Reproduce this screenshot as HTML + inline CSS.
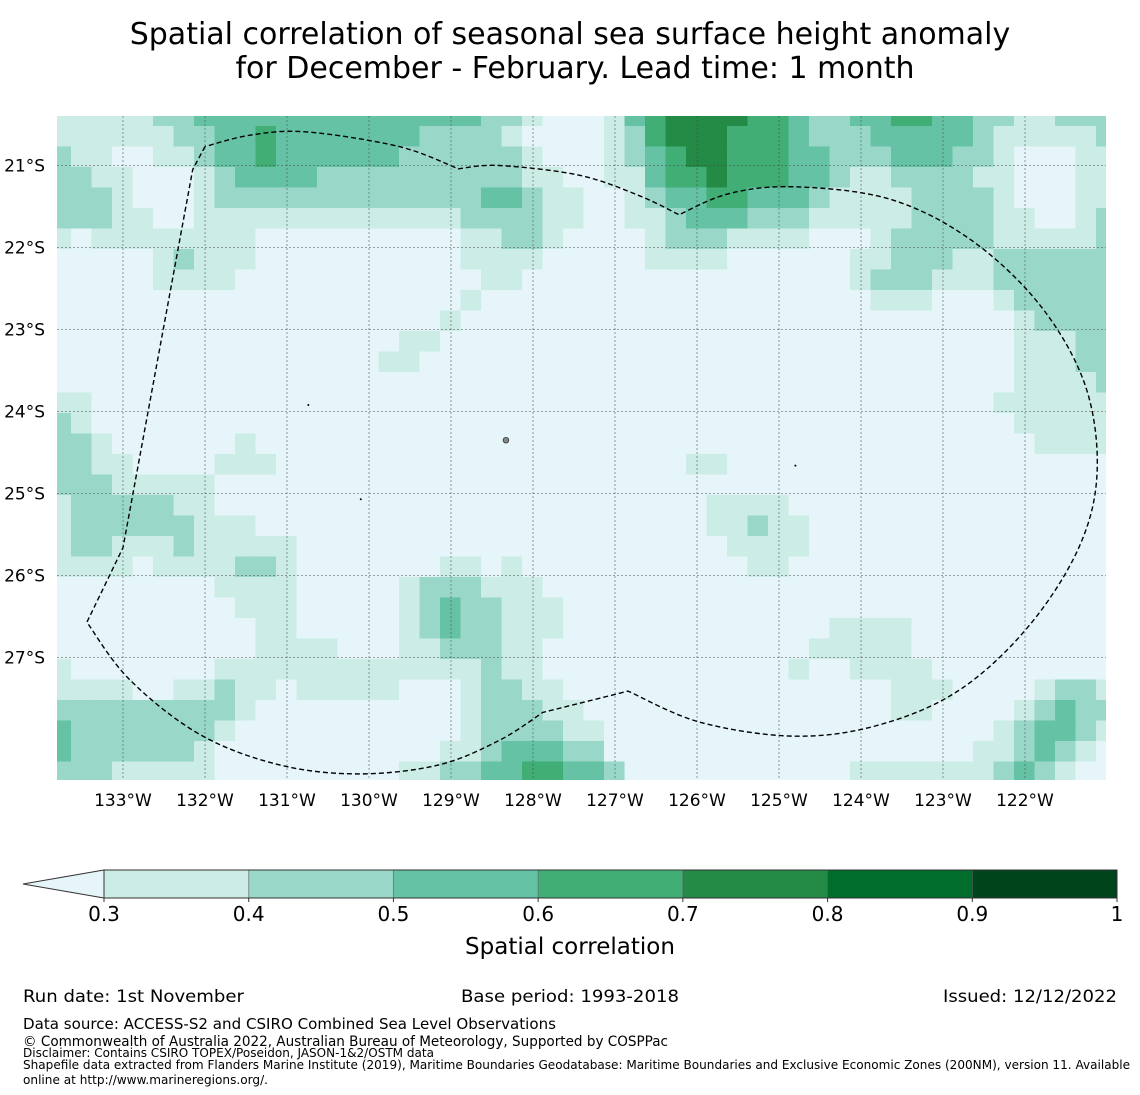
<!DOCTYPE html>
<html>
<head>
<meta charset="utf-8">
<style>
  html,body{margin:0;padding:0;background:#fff;}
  svg{display:block;font-family:"DejaVu Sans","Liberation Sans",sans-serif;}
</style>
</head>
<body>
<svg id="chart" width="1140" height="1095" viewBox="0 0 1140 1095" xmlns="http://www.w3.org/2000/svg">
  <rect x="0" y="0" width="1140" height="1095" fill="#ffffff"/>
  <text x="570" y="44" font-size="30" text-anchor="middle" fill="#000">Spatial correlation of seasonal sea surface height anomaly</text>
  <text x="575" y="78" font-size="30" text-anchor="middle" fill="#000">for December - February. Lead time: 1 month</text>
  <defs><clipPath id="mapclip"><rect x="57" y="116" width="1049" height="664"/></clipPath></defs>
  <g id="cells" clip-path="url(#mapclip)"></g>
  <g id="grid"></g>
  <g id="outline" clip-path="url(#mapclip)"></g>
  <g id="islands"></g>
  <g id="xlabels"></g>
  <g id="ylabels"></g>
  <g id="colorbar"></g>
  <text x="570" y="954" font-size="23" text-anchor="middle" fill="#000">Spatial correlation</text>
  <g fill="#000">
    <text x="23" y="1002" font-size="17" textLength="221" lengthAdjust="spacingAndGlyphs">Run date: 1st November</text>
    <text x="461" y="1002" font-size="17" textLength="218" lengthAdjust="spacingAndGlyphs">Base period: 1993-2018</text>
    <text x="943" y="1002" font-size="17" textLength="174" lengthAdjust="spacingAndGlyphs">Issued: 12/12/2022</text>
    <text x="23" y="1029" font-size="15" textLength="533" lengthAdjust="spacingAndGlyphs">Data source: ACCESS-S2 and CSIRO Combined Sea Level Observations</text>
    <text x="23" y="1046" font-size="14" textLength="645" lengthAdjust="spacingAndGlyphs">© Commonwealth of Australia 2022, Australian Bureau of Meteorology, Supported by COSPPac</text>
    <text x="23" y="1057" font-size="12" textLength="411" lengthAdjust="spacingAndGlyphs">Disclaimer: Contains CSIRO TOPEX/Poseidon, JASON-1&amp;2/OSTM data</text>
    <text x="23" y="1069" font-size="12" textLength="1107" lengthAdjust="spacingAndGlyphs">Shapefile data extracted from Flanders Marine Institute (2019), Maritime Boundaries Geodatabase: Maritime Boundaries and Exclusive Economic Zones (200NM), version 11. Available</text>
    <text x="23" y="1084" font-size="12" textLength="245" lengthAdjust="spacingAndGlyphs">online at http://www.marineregions.org/.</text>
  </g>
</svg>
<script>
// ---- data ----
// correlation class per cell (0: <0.3, 1: 0.3-0.4, ... 7: 0.9-1), run-length encoded rows (level*count), north to south
const rowsRLE = [
"1*5 2*2 3*14 2*2 1*1 0*3 1*1 3*1 4*1 5*4 4*2 3*1 2*2 3*2 4*2 3*2 2*2 1*2 2*3",
"1*6 2*2 3*2 4*1 3*7 2*4 1*1 0*4 1*1 2*1 4*1 5*3 4*3 3*1 2*3 3*5 2*1 1*5 2*1",
"2*1 1*2 0*2 1*2 2*1 3*2 4*1 3*6 2*6 1*1 0*3 1*1 2*1 3*1 4*1 5*2 4*3 3*2 2*3 3*3 2*2 1*1 0*3 1*2",
"2*2 1*2 0*3 1*1 2*1 3*4 2*10 1*2 0*2 1*2 3*1 4*2 5*1 4*3 3*2 2*1 1*2 2*4 1*2 0*3 1*2",
"2*3 1*1 0*3 1*1 2*13 3*2 2*1 1*2 0*2 1*1 2*1 3*2 4*2 3*3 2*1 1*4 2*4 1*1 0*3 1*2",
"2*3 1*2 0*2 1*13 2*4 1*2 0*2 1*2 2*1 3*3 2*3 1*5 2*4 1*2 0*2 1*1 2*1",
"1*1 0*1 1*8 0*10 1*2 2*2 1*1 0*4 1*1 2*3 1*4 0*3 1*1 2*5 1*5 2*1",
"0*5 1*1 2*1 1*3 0*10 1*4 0*5 1*4 0*6 1*2 2*3 1*2 2*6",
"0*5 1*4 0*12 1*2 0*16 1*1 2*3 1*3 2*6",
"0*20 1*1 0*19 1*3 0*3 1*1 2*5",
"0*19 1*1 0*27 1*1 2*4",
"0*17 1*2 0*28 1*3 2*2",
"0*16 1*2 0*29 1*3 2*2",
"0*47 1*4 2*1",
"1*2 0*44 1*6",
"2*1 1*1 0*45 1*5",
"2*2 1*1 0*6 1*1 0*38 1*4",
"2*2 1*2 0*4 1*3 0*20 1*2 0*19",
"2*3 1*5 0*44",
"1*1 2*5 1*2 0*24 1*4 0*16",
"1*1 2*6 1*3 0*22 1*2 2*1 1*2 0*15",
"1*1 2*2 1*3 2*1 1*5 0*21 1*4 0*15",
"1*4 0*1 1*4 2*2 1*1 0*7 1*2 0*1 1*1 0*11 1*2 0*16",
"0*8 1*4 0*5 1*1 2*3 1*3 0*28",
"0*9 1*3 0*5 1*1 2*1 3*1 2*2 1*3 0*27",
"0*10 1*2 0*5 1*1 2*1 3*1 2*2 1*3 0*13 1*4 0*10",
"0*10 1*4 0*3 1*2 2*3 1*2 0*13 1*5 0*10",
"1*1 0*7 1*13 2*1 1*2 0*12 1*1 0*2 1*4 0*9",
"1*4 0*2 1*2 2*1 1*2 0*1 1*5 0*3 1*1 2*2 1*2 0*16 1*3 0*4 1*1 2*2 1*1",
"2*9 1*1 0*10 1*1 2*3 1*2 0*15 1*2 0*4 1*1 2*1 3*1 2*2",
"3*1 2*7 1*1 0*11 1*1 2*4 1*2 0*19 1*1 2*1 3*2 2*1 1*1",
"3*1 2*6 1*1 0*11 1*2 2*1 3*3 2*2 0*18 1*2 2*1 3*1 2*1 1*1 0*1",
"2*3 1*5 0*9 1*2 2*2 3*2 4*2 3*2 2*1 0*11 1*7 2*1 3*1 2*1 1*1 0*2"
];
const levelColors = ["#e5f5f9","#ccece6","#99d8c9","#66c2a4","#41ae76","#238b45","#006d2c","#00441b"];
const colorbarTicks = ["0.3","0.4","0.5","0.6","0.7","0.8","0.9","1"];
const lonTicks = [133,132,131,130,129,128,127,126,125,124,123,122];
const latTicks = [21,22,23,24,25,26,27];
const lonStart = -133.759;
const latStart = -20.393;
const cellDeg = 0.25;
const outlineLon = [-132,-132.15,-133,-133.44,-132.92,-132.06,-131.09,-130.12,-129.15,-128.41,-127.88,-126.84,-125.96,-124.8,-123.77,-122.79,-121.94,-121.33,-121.12,-121.27,-121.82,-122.67,-123.65,-124.8,-125.6,-126.22,-126.7,-127.43,-128.41,-128.91,-129.63,-130.76,-131.45,-132];
const outlineLat = [-20.77,-21.05,-25.66,-26.57,-27.27,-27.94,-28.31,-28.42,-28.31,-28.01,-27.67,-27.41,-27.79,-27.96,-27.82,-27.39,-26.6,-25.63,-24.71,-23.67,-22.7,-21.9,-21.41,-21.26,-21.34,-21.6,-21.37,-21.12,-21,-21.04,-20.77,-20.59,-20.63,-20.77];
const outlineCorners = [0,1,2,3,10,11,25,29,33];
const islandLon = [-130.74,-128.33,-130.1,-124.8];
const islandLat = [-23.92,-24.35,-25.07,-24.66];

// ---- axes ----
const lon0 = -133, px0 = 123, pxPerDeg = 82;
const lat0 = -21, py0 = 165.5;
function xOf(lon){ return px0 + (lon - lon0) * pxPerDeg; }
function yOf(lat){ return py0 + (lat0 - lat) * pxPerDeg; }

const NS = "http://www.w3.org/2000/svg";
function mk(tag, attrs, parent){
  const e = document.createElementNS(NS, tag);
  for (const k in attrs) e.setAttribute(k, attrs[k]);
  parent.appendChild(e);
  return e;
}
function decode(s){
  const out = [];
  s.trim().split(/\s+/).forEach(p => { const [v,n] = p.split("*").map(Number); for(let i=0;i<n;i++) out.push(v); });
  return out;
}

// cells
const gCells = document.getElementById("cells");
rowsRLE.forEach((r, ri) => {
  const vals = decode(r);
  const lat = latStart - ri * cellDeg;
  const y1 = yOf(lat + cellDeg/2), y2 = yOf(lat - cellDeg/2);
  vals.forEach((v, ci) => {
    const lon = lonStart + ci * cellDeg;
    const x1 = xOf(lon - cellDeg/2), x2 = xOf(lon + cellDeg/2);
    const rc = mk("rect", {x:x1, y:y1, width:(x2-x1)+0.4, height:(y2-y1)+0.4, fill:levelColors[v]}, gCells);
    
    
  });
});

// gridlines & labels
const gGrid = document.getElementById("grid");
const gX = document.getElementById("xlabels");
const gY = document.getElementById("ylabels");
lonTicks.forEach(d => {
  const x = xOf(-d);
  const ln = mk("line", {x1:x, y1:116, x2:x, y2:780, stroke:"#444", "stroke-width":0.8, "stroke-dasharray":"2,2", opacity:0.65}, gGrid);
  
  
  const t = mk("text", {x:x, y:806, "font-size":17, "text-anchor":"middle", fill:"#000"}, gX);
  t.textContent = d + "°W";
  
  
});
latTicks.forEach(d => {
  const y = yOf(-d);
  const ln = mk("line", {x1:57, y1:y, x2:1106, y2:y, stroke:"#444", "stroke-width":0.8, "stroke-dasharray":"2,2", opacity:0.65}, gGrid);
  
  
  const t = mk("text", {x:45, y:y+6, "font-size":17, "text-anchor":"end", fill:"#000"}, gY);
  t.textContent = d + "°S";
  
  
});

// outline (Catmull-Rom smoothing, sharp at corners)
const gOut = document.getElementById("outline");
const P = outlineLon.map((lon,i) => [xOf(lon), yOf(outlineLat[i])]);
const n = P.length;
let dPath = "M" + P[0][0].toFixed(1) + "," + P[0][1].toFixed(1);
for (let i = 0; i < n-1; i++){
  const p1 = P[i], p2 = P[i+1];
  const p0 = (outlineCorners.includes(i) || i===0) ? p1 : P[i-1];
  const p3 = (outlineCorners.includes(i+1) || i+2>=n) ? p2 : P[i+2];
  const c1 = [p1[0] + (p2[0]-p0[0])/6, p1[1] + (p2[1]-p0[1])/6];
  const c2 = [p2[0] - (p3[0]-p1[0])/6, p2[1] - (p3[1]-p1[1])/6];
  dPath += " C" + c1[0].toFixed(1)+","+c1[1].toFixed(1)+" "+c2[0].toFixed(1)+","+c2[1].toFixed(1)+" "+p2[0].toFixed(1)+","+p2[1].toFixed(1);
}
const op = mk("path", {d:dPath, fill:"none", stroke:"#000", "stroke-width":1.4, "stroke-dasharray":"5,3", "stroke-linejoin":"round"}, gOut);



// islands
const gIsl = document.getElementById("islands");
islandLon.forEach((lon,i) => {
  const big = i === 1;
  const c = mk("circle", {cx:xOf(lon), cy:yOf(islandLat[i]), r: big?2.8:1, fill: big?"#888":"#000", stroke:"#333", "stroke-width": big?0.8:0}, gIsl);
  
  
});

// colorbar
const gCb = document.getElementById("colorbar");
const cbX0 = 104, cbX1 = 1117, cbY = 870, cbH = 28;
const step = (cbX1 - cbX0) / (colorbarTicks.length - 1);
const tri = mk("polygon", {points:`23,${cbY+cbH/2} ${cbX0},${cbY} ${cbX0},${cbY+cbH}`, fill:levelColors[0], stroke:"#333", "stroke-width":1}, gCb);


for (let i = 0; i < colorbarTicks.length - 1; i++){
  const r = mk("rect", {x:cbX0 + i*step, y:cbY, width:step, height:cbH, fill:levelColors[i+1]}, gCb);
  
  
}
colorbarTicks.forEach((t,i) => {
  const x = cbX0 + i*step;
  if (i>0 && i<colorbarTicks.length-1){
    const l = mk("line", {x1:x, y1:cbY, x2:x, y2:cbY+cbH, stroke:"#555", "stroke-width":1, opacity:0.6}, gCb);
    
    
  }
  const tk = mk("line", {x1:x, y1:cbY+cbH, x2:x, y2:cbY+cbH+4, stroke:"#333", "stroke-width":1}, gCb);
  
  
  const tx = mk("text", {x:x, y:921, "font-size":20, "text-anchor":"middle", fill:"#000"}, gCb);
  tx.textContent = t;
  
  
});
const fr = mk("rect", {x:cbX0, y:cbY, width:cbX1-cbX0, height:cbH, fill:"none", stroke:"#333", "stroke-width":1}, gCb);


</script>
</body>
</html>
